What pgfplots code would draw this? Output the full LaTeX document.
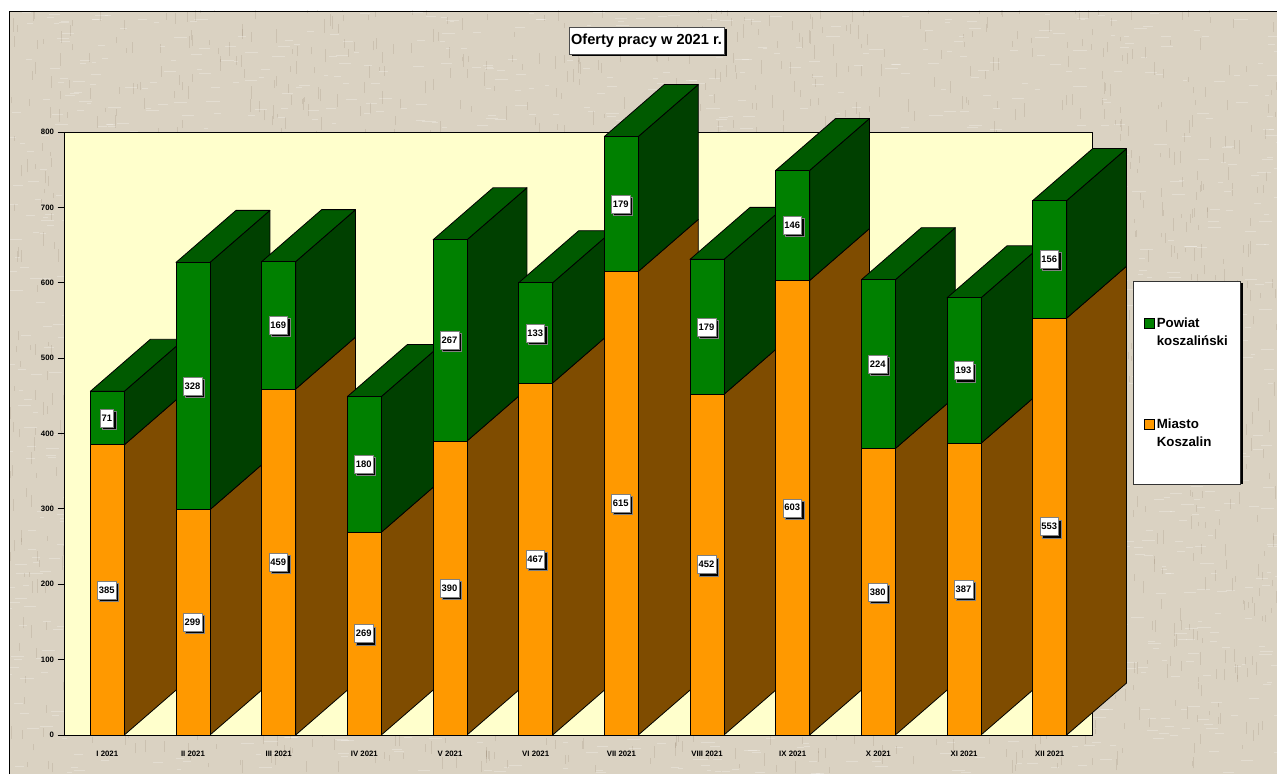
\documentclass[border=0pt]{standalone}
\usepackage{fontspec}
\setmainfont{Liberation Sans}
\usepackage{pgfplots}
\usepackage{pgfplotstable}
\pgfplotsset{compat=1.18}
\usetikzlibrary{shadows}
\definecolor{bgbeige}{HTML}{DAD2C2}
\definecolor{plotbg}{HTML}{FFFFCC}
\definecolor{orfront}{HTML}{FF9900}
\definecolor{orside}{HTML}{7F4C00}
\definecolor{grfront}{HTML}{008000}
\definecolor{grside}{HTML}{004000}
\definecolor{grtop}{HTML}{005A00}
\pgfplotstableread{
i  koszalin powiat
0  385 71
1  299 328
2  459 169
3  269 180
4  390 267
5  467 133
6  615 179
7  452 179
8  603 146
9  380 224
10 387 193
11 553 156
}\dane
\newcommand{\face}[2]{\addplot[fill=#1,draw=black,line width=0.8pt,line join=round,forget plot] coordinates {#2} -- cycle;}
\begin{document}
\begin{tikzpicture}
\useasboundingbox (0,0) rectangle (1277pt,774pt);
\fill[white] (0,0) rectangle (1277pt,774pt);
\fill[bgbeige] (9pt,0) rectangle (1277pt,763pt);
\begin{scope}
\clip (9pt,0) rectangle (1277pt,763pt);
\pgfmathsetseed{7}
\foreach \n in {1,...,2200}{
  \pgfmathsetmacro{\px}{rnd*1277}
  \pgfmathsetmacro{\py}{rnd*763}
  \pgfmathsetmacro{\ln}{4+rnd*10}
  \draw[white,opacity=0.25,line width=1pt] (\px pt,\py pt) -- ++(\ln pt,0);
  \pgfmathsetmacro{\qx}{rnd*1277}
  \pgfmathsetmacro{\qy}{rnd*763}
  \draw[black!60!brown,opacity=0.1,line width=1pt] (\qx pt,\qy pt) -- ++(0,\ln pt);
}
\end{scope}
\draw[black,line width=0.9pt] (9pt,0) -- (9pt,763pt) -- (1277pt,763pt);
% title
\node[draw=black!70,line width=0.5pt,fill=white,inner sep=0pt,minimum width=155pt,minimum height=27pt,
      general shadow={fill=black,shadow xshift=2.5pt,shadow yshift=-2.5pt},
      font=\fontsize{14.6}{17}\selectfont\bfseries] at (646.5pt,733.5pt) {Oferty pracy w 2021 r.};
% legend shadow
\fill[black] (1135pt,289.5pt) rectangle (1242.5pt,491pt);
\begin{axis}[
  at={(64.5pt,39pt)},anchor=south west,
  scale only axis,width=1028pt,height=603pt,
  xmin=-0.5,xmax=11.5,ymin=0,ymax=800,
  clip=false,
  axis background/.style={fill=plotbg},
  axis line style={black,line width=0.9pt},
  xtick={0,...,11},
  xticklabels={I 2021,II 2021,III 2021,IV 2021,V 2021,VI 2021,VII 2021,VIII 2021,IX 2021,X 2021,XI 2021,XII 2021},
  ytick={0,100,...,800},
  tick align=outside,
  tick pos=left,
  major tick length=7pt,
  xtick style={draw=none},
  ytick style={black,line width=0.8pt},
  xticklabel style={yshift=-6pt,font=\fontsize{7.8}{9}\selectfont\bfseries},
  yticklabel style={font=\fontsize{7.8}{9}\selectfont\bfseries,/pgf/number format/assume math mode=true},
  legend style={at={(1.0394,0.7529)},anchor=north west,draw=black!80,line width=0.6pt,fill=white,
    font=\fontsize{13.3}{17.5}\selectfont\bfseries,
    cells={anchor=west,align=left},inner xsep=11pt,inner ysep=35pt,row sep=68pt},
  legend image code/.code={\draw[#1,draw=black,line width=0.5pt] (0pt,4pt) rectangle (10pt,14.5pt);},
  legend cell align=left,
]
\addlegendimage{fill=grfront}
\addlegendentry{Powiat\\koszaliński}
\addlegendimage{fill=orfront}
\addlegendentry{Miasto\\Koszalin}
\pgfplotsinvokeforeach{0,...,11}{
  \pgfplotstablegetelem{#1}{koszalin}\of\dane \let\va=\pgfplotsretval
  \pgfplotstablegetelem{#1}{powiat}\of\dane \let\vb=\pgfplotsretval
  \pgfmathsetmacro{\xl}{#1-0.198}
  \pgfmathsetmacro{\xr}{#1+0.198}
  \pgfmathsetmacro{\xbl}{\xl+0.70}
  \pgfmathsetmacro{\xbr}{\xr+0.70}
  \pgfmathsetmacro{\ys}{\va+\vb}
  \pgfmathsetmacro{\dz}{69}
  \pgfmathsetmacro{\bz}{\dz}
  \pgfmathsetmacro{\ba}{\va+\dz}
  \pgfmathsetmacro{\bs}{\ys+\dz}
  \face{orside}{(\xr,0) (\xbr,\bz) (\xbr,\ba) (\xr,\va)}
  \face{grside}{(\xr,\va) (\xbr,\ba) (\xbr,\bs) (\xr,\ys)}
  \face{grtop}{(\xl,\ys) (\xbl,\bs) (\xbr,\bs) (\xr,\ys)}
  \face{orfront}{(\xl,0) (\xr,0) (\xr,\va) (\xl,\va)}
  \face{grfront}{(\xl,\va) (\xr,\va) (\xr,\ys) (\xl,\ys)}
}
\pgfplotsset{lab/.style={only marks,mark size=0pt,forget plot,point meta=explicit,
  nodes near coords,
  nodes near coords style={anchor=center,xshift=-0.5pt,draw=black!50,line width=0.4pt,fill=white,inner xsep=1.5pt,inner ysep=0pt,minimum height=18pt,
    general shadow={fill=black,shadow xshift=2.2pt,shadow yshift=-2.2pt},
    font=\fontsize{9.4}{11}\selectfont\bfseries,
    /pgf/number format/assume math mode=true}}}
\addplot[lab] table[x=i,y expr=\thisrow{koszalin}/2,meta=koszalin] {\dane};
\addplot[lab] table[x=i,y expr=\thisrow{koszalin}+\thisrow{powiat}/2,meta=powiat] {\dane};
\end{axis}
\end{tikzpicture}
\end{document}
